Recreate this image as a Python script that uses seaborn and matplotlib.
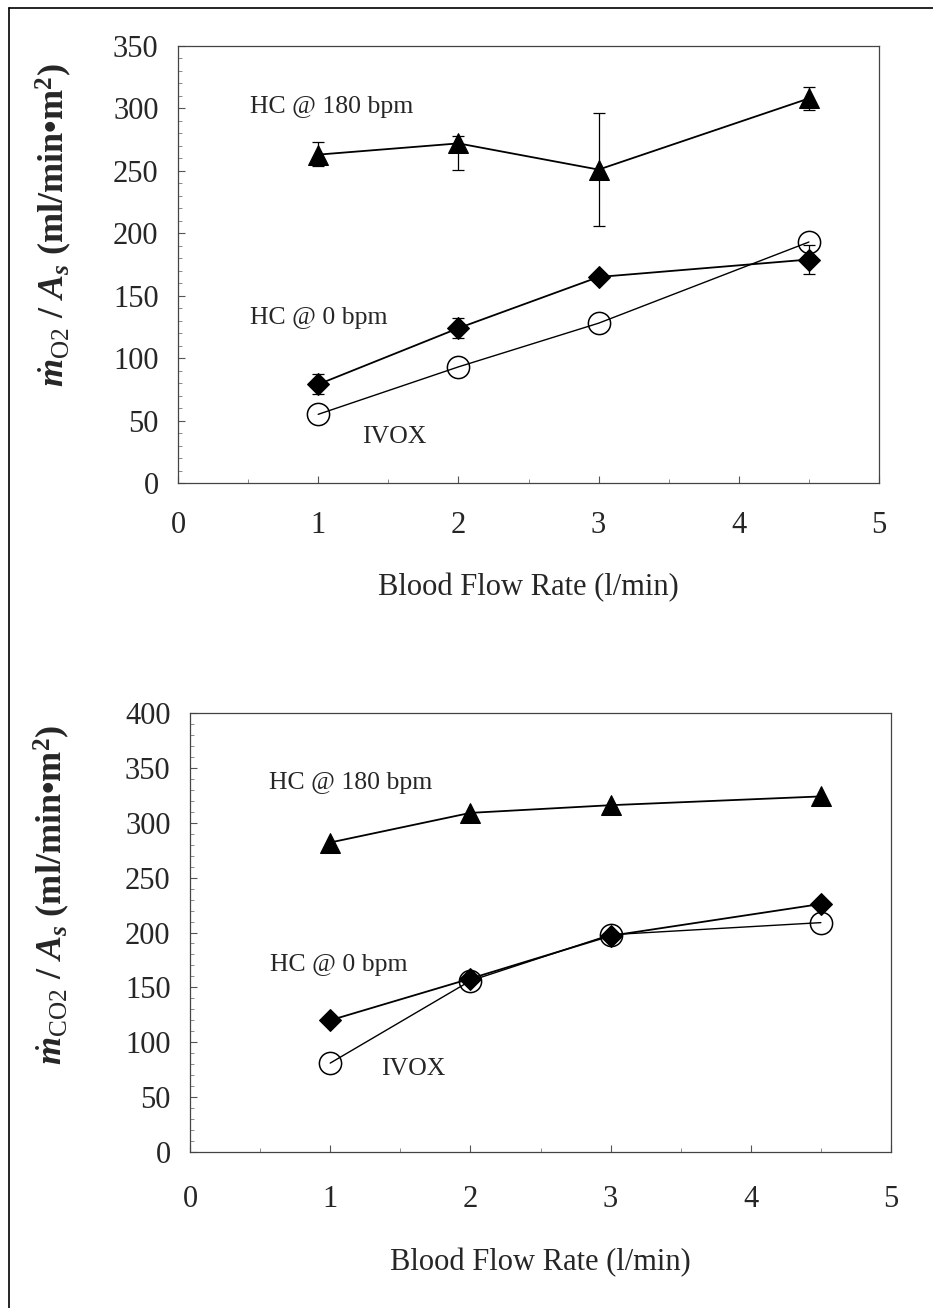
import numpy as np
import pandas as pd
import matplotlib
matplotlib.use("Agg")
import matplotlib.pyplot as plt
import seaborn as sns
from matplotlib.lines import Line2D

# ---------------- data ----------------
flow = [1, 2, 3, 4.5]

# O2 transfer (top panel)
o2_hc180 = [263, 272, 251, 308]
o2_hc180_err_lo = [9, 21, 45, 9]
o2_hc180_err_hi = [10, 6, 45, 9]
o2_hc0 = [79, 124, 165, 179]
o2_hc0_err = [8, 8, 3, 12]
o2_ivox = [55, 93, 128, 193]

# CO2 transfer (bottom panel)
co2_hc180 = [282, 309, 316, 324]
co2_hc0 = [120, 158, 197, 226]
co2_ivox = [81, 156, 198, 209]

x_ticks = [0, 1, 2, 3, 4, 5]
o2_yticks = [0, 50, 100, 150, 200, 250, 300, 350]
co2_yticks = [0, 50, 100, 150, 200, 250, 300, 350, 400]

series_labels = ["HC @ 180 bpm", "HC @ 0 bpm", "IVOX"]

# ---------------- style ----------------
sns.set_theme(style="white")
plt.rcParams['font.family'] = ['Liberation Serif', 'DejaVu Serif']
plt.rcParams['mathtext.fontset'] = 'custom'
plt.rcParams['mathtext.rm'] = 'Liberation Serif'
plt.rcParams['mathtext.it'] = 'Liberation Serif:italic:bold'
plt.rcParams['mathtext.bf'] = 'Liberation Serif:bold'

W, H = 933, 1308
fig = plt.figure(figsize=(W / 100, H / 100), dpi=100)
fig.patch.set_facecolor("white")

ax1 = fig.add_axes([178 / W, 1 - 483 / H, (879 - 178) / W, (483 - 46) / H])
ax2 = fig.add_axes([190 / W, 1 - 1152 / H, (891 - 190) / W, (1152 - 713) / H])

def draw_panel(ax, hc180, hc0, ivox, yticks, ymax, xpad):
    df = pd.DataFrame({
        "flow": flow * 3,
        "val": list(hc180) + list(hc0) + list(ivox),
        "series": sum([[s] * len(flow) for s in series_labels], []),
    })
    sub = df[df.series == "HC @ 180 bpm"]
    sns.lineplot(data=sub, x="flow", y="val", ax=ax, color="black", lw=1.3,
                 marker="^", markersize=14, markerfacecolor="black",
                 markeredgecolor="black", zorder=3, legend=False)
    sub = df[df.series == "HC @ 0 bpm"]
    sns.lineplot(data=sub, x="flow", y="val", ax=ax, color="black", lw=1.3,
                 marker="D", markersize=11, markerfacecolor="black",
                 markeredgecolor="black", zorder=3, legend=False)
    sub = df[df.series == "IVOX"]
    sns.lineplot(data=sub, x="flow", y="val", ax=ax, color="black", lw=1.0,
                 marker="o", markersize=16, markerfacecolor="none",
                 markeredgecolor="black", markeredgewidth=1.1, zorder=3,
                 legend=False)
    ax.set_xlim(0, 5)
    ax.set_ylim(0, ymax)
    ax.set_xticks(x_ticks)
    ax.set_yticks(yticks)
    ax.set_xticklabels([str(t) for t in x_ticks], fontsize=22)
    ax.set_yticklabels([str(t) for t in yticks], fontsize=22)
    ax.tick_params(axis="y", which="major", direction="in", length=5,
                   width=0.8, color="#555555", pad=14, left=True)
    ax.tick_params(axis="x", which="major", direction="in", length=5,
                   width=0.8, color="#555555", pad=xpad, bottom=True)
    ax.set_xticks(np.arange(0, 5.01, 0.5), minor=True)
    ax.set_yticks(np.arange(0, ymax + 0.1, 10), minor=True)
    ax.tick_params(axis="both", which="minor", direction="in", length=3,
                   width=0.6, color="#777777", left=True, bottom=True)
    for s in ax.spines.values():
        s.set_color("#444444")
        s.set_linewidth(0.9)
    ax.set_xlabel("Blood Flow Rate (l/min)", fontsize=22, labelpad=24)
    ax.set_facecolor("white")

draw_panel(ax1, o2_hc180, o2_hc0, o2_ivox, o2_yticks, 350, 20)
ax1.errorbar(flow, o2_hc180, yerr=[o2_hc180_err_lo, o2_hc180_err_hi], fmt="none",
             ecolor="black", elinewidth=0.9, capsize=4, capthick=0.9, zorder=2)
ax1.errorbar(flow, o2_hc0, yerr=o2_hc0_err, fmt="none",
             ecolor="black", elinewidth=0.9, capsize=4, capthick=0.9, zorder=2)

draw_panel(ax2, co2_hc180, co2_hc0, co2_ivox, co2_yticks, 400, 24)

# annotations
ax1.text(0.51, 301, "HC @ 180 bpm", fontsize=18.5, va="center", ha="left")
ax1.text(0.51, 132, "HC @ 0 bpm", fontsize=18.5, va="center", ha="left")
ax1.text(1.31, 37, "IVOX", fontsize=18.5, va="center", ha="left")

ax2.text(0.56, 336, "HC @ 180 bpm", fontsize=18.5, va="center", ha="left")
ax2.text(0.57, 170, "HC @ 0 bpm", fontsize=18.5, va="center", ha="left")
ax2.text(1.36, 76, "IVOX", fontsize=18.5, va="center", ha="left")

# y labels
ax1.set_ylabel(r"$\dot{m}_{\mathrm{O2}}$ / $A_s$ (ml/min•m$^{\mathbf{2}}$)",
               fontsize=26, fontweight="bold")
ax1.yaxis.set_label_coords(-0.148, 0.59)
ax2.set_ylabel(r"$\dot{m}_{\mathrm{CO2}}$ / $A_s$ (ml/min•m$^{\mathbf{2}}$)",
               fontsize=26, fontweight="bold")
ax2.yaxis.set_label_coords(-0.168, 0.585)

# scanned page frame (left and top border lines)
fig.add_artist(Line2D([9 / W, 9 / W], [0, 1 - 8 / H], transform=fig.transFigure,
                      color="black", lw=1.2))
fig.add_artist(Line2D([9 / W, 1], [1 - 8 / H, 1 - 8 / H], transform=fig.transFigure,
                      color="black", lw=1.2))

fig.savefig("out.png", dpi=100, facecolor="white")
